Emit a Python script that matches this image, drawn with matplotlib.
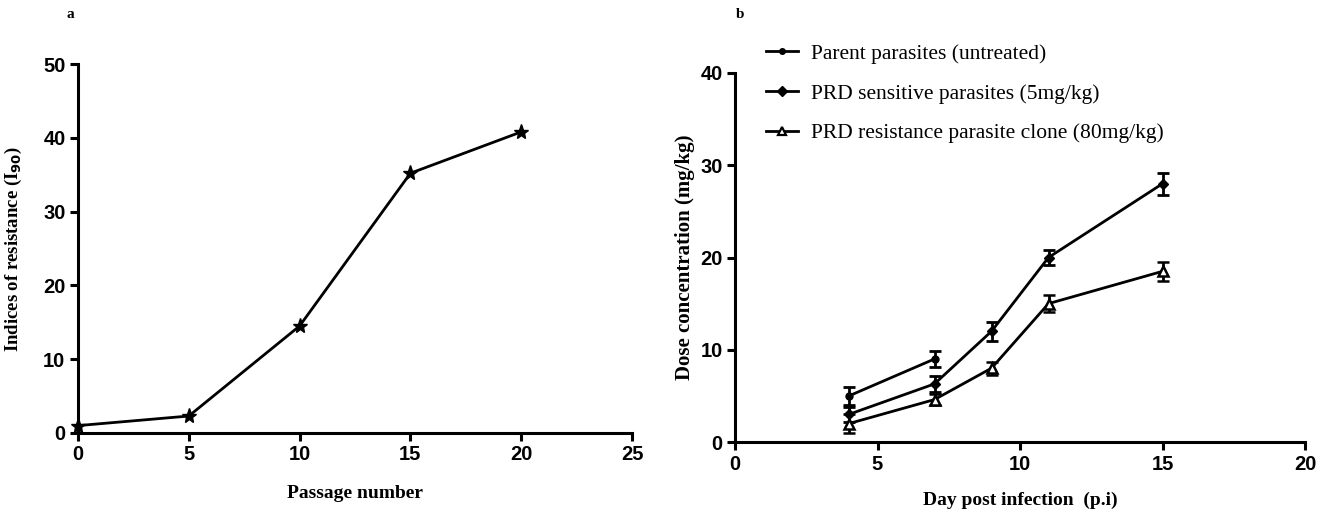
import matplotlib
matplotlib.use("Agg")
import matplotlib.pyplot as plt
from matplotlib.lines import Line2D

# Panel a data
passage = [0, 5, 10, 15, 20]
resistance_index = [1.0, 2.3, 14.5, 35.2, 40.8]

# Panel b data
days_parent = [4, 7]
parent_vals = [5.0, 9.0]
parent_err = [1.0, 0.9]

days_sens = [4, 7, 9, 11, 15]
sens_vals = [3.0, 6.3, 12.0, 20.0, 28.0]
sens_err = [0.8, 0.9, 1.0, 0.8, 1.2]

days_res = [4, 7, 9, 11, 15]
res_vals = [2.0, 4.6, 8.0, 15.0, 18.5]
res_err = [1.0, 0.6, 0.7, 0.9, 1.0]

series_labels = ["Parent parasites (untreated)",
                 "PRD sensitive parasites (5mg/kg)",
                 "PRD resistance parasite clone (80mg/kg)"]

W, H = 1333, 512
fig = plt.figure(figsize=(W / 100, H / 100), dpi=100)

tick_font = dict(family="Liberation Sans", weight="bold", size=14.5)
xlabel_font = dict(family="Liberation Serif", weight="bold", size=14)


def style(ax):
    for s in ("top", "right"):
        ax.spines[s].set_visible(False)
    for s in ("left", "bottom"):
        ax.spines[s].set_linewidth(2.2)
    ax.tick_params(direction="out", length=6, width=2.2, pad=3)
    for lbl in ax.get_xticklabels() + ax.get_yticklabels():
        lbl.set_fontfamily(tick_font["family"])
        lbl.set_fontweight(tick_font["weight"])
        lbl.set_fontsize(tick_font["size"])


# Panel a
axa = fig.add_axes([78 / W, 1 - 433 / H, (632 - 78) / W, (433 - 64) / H])
axa.plot(passage, resistance_index, color="black", lw=2, marker="*",
         ms=11, mfc="black", mec="black", clip_on=False)
axa.set_xlim(0, 25)
axa.set_ylim(0, 50)
axa.set_xticks([0, 5, 10, 15, 20, 25])
axa.set_yticks([0, 10, 20, 30, 40, 50])
style(axa)
axa.set_xlabel("Passage number", labelpad=15, **xlabel_font)
axa.set_ylabel(r"Indices of resistance (I$_{\mathbf{90}}$)", labelpad=14,
               family="Liberation Serif", weight="bold", size=13.5)

# Panel b
axb = fig.add_axes([735 / W, 1 - 442 / H, (1305 - 735) / W, (442 - 73) / H])
eb_kw = dict(color="black", lw=2, ecolor="black", elinewidth=2, capsize=4,
             capthick=2, clip_on=False)
axb.errorbar(days_parent, parent_vals, yerr=parent_err, marker="o", ms=5,
             mfc="black", **eb_kw)
axb.errorbar(days_sens, sens_vals, yerr=sens_err, marker="D", ms=5,
             mfc="black", **eb_kw)
axb.errorbar(days_res, res_vals, yerr=res_err, marker="^", ms=7,
             mfc="white", mew=1.8, **eb_kw)
axb.set_xlim(0, 20)
axb.set_ylim(0, 40)
axb.set_xticks([0, 5, 10, 15, 20])
axb.set_yticks([0, 10, 20, 30, 40])
style(axb)
axb.set_xlabel("Day post infection  (p.i)", labelpad=13, **xlabel_font)
axb.set_ylabel("Dose concentration (mg/kg)", labelpad=4,
               family="Liberation Serif", weight="bold", size=15)

handles = [
    Line2D([], [], color="black", lw=2, marker="o", ms=4, mfc="black"),
    Line2D([], [], color="black", lw=2, marker="D", ms=5, mfc="black"),
    Line2D([], [], color="black", lw=2, marker="^", ms=6, mfc="white", mew=1.6),
]
leg = fig.legend(handles, series_labels, loc="upper left",
                 bbox_to_anchor=(757 / W, 1 - 35 / H), frameon=False,
                 prop=dict(family="Liberation Serif", size=15.5),
                 handlelength=1.5, handletextpad=0.6, labelspacing=0.92,
                 borderaxespad=0)

fig.text(70 / W, 1 - 14 / H, "a", family="Liberation Serif", weight="bold",
         size=11, ha="center", va="center")
fig.text(740 / W, 1 - 14 / H, "b", family="Liberation Serif", weight="bold",
         size=11, ha="center", va="center")

fig.savefig("out.png", dpi=100, facecolor="white")
